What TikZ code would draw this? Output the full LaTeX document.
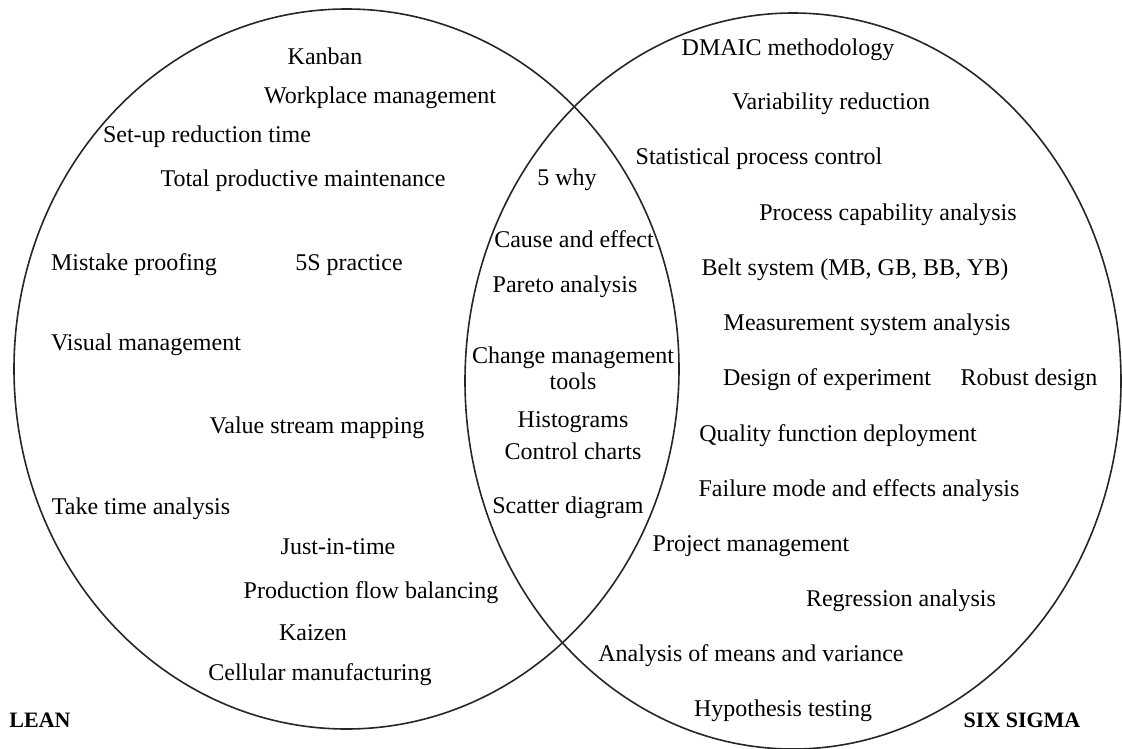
\documentclass[tikz,border=0pt]{standalone}
\usepackage{fontspec}
\setmainfont{Liberation Serif}
\begin{document}
\begin{tikzpicture}[x=1pt,y=-1pt,
  lbl/.style={inner sep=0pt,anchor=base,font=\fontsize{24}{26}\selectfont},
  mlbl/.style={inner sep=0pt,anchor=center,align=center,font=\fontsize{24}{26}\selectfont},
  title/.style={inner sep=0pt,anchor=base,font=\fontsize{22}{24}\selectfont\bfseries},
  setline/.style={line width=1.6pt,draw=black!85}]
\useasboundingbox (0,0) rectangle (1122,748);
\draw[setline] (346.5,369) ellipse [x radius=332.5pt, y radius=360pt];
\draw[setline] (793,381) ellipse [x radius=328pt, y radius=368pt];
% LEAN
\node[lbl] (kanban) at (325,64) {Kanban};
\node[lbl] (workplace) at (380,103) {Workplace management};
\node[lbl] (setup) at (207,142) {Set-up reduction time};
\node[lbl] (tpm) at (303,186) {Total productive maintenance};
\node[lbl] (mistake) at (134,270) {Mistake proofing};
\node[lbl] (fives) at (349,270) {5S practice};
\node[lbl] (visual) at (146,350) {Visual management};
\node[lbl] (vsm) at (317,433) {Value stream mapping};
\node[lbl] (take) at (141,514) {Take time analysis};
\node[lbl] (jit) at (338,554) {Just-in-time};
\node[lbl] (pfb) at (371,598) {Production flow balancing};
\node[lbl] (kaizen) at (313,640) {Kaizen};
\node[lbl] (cell) at (320,680) {Cellular manufacturing};
\node[title] (lean) at (40,727) {LEAN};
% Common
\node[lbl] (why) at (567,185) {5 why};
\node[lbl] (cause) at (574,247) {Cause and effect};
\node[lbl] (pareto) at (565,292) {Pareto analysis};
\node[mlbl] (change) at (573,368) {Change management\\tools};
\node[mlbl] (hist) at (573,436) {Histograms\\[6pt]Control charts};
\node[lbl] (scatter) at (568,513) {Scatter diagram};
% SIX SIGMA
\node[lbl] (dmaic) at (788,55) {DMAIC methodology};
\node[lbl] (var) at (831,109) {Variability reduction};
\node[lbl] (spc) at (759,164) {Statistical process control};
\node[lbl] (pca) at (888,220) {Process capability analysis};
\node[lbl] (belt) at (855,275) {Belt system (MB, GB, BB, YB)};
\node[lbl] (msa) at (867,330) {Measurement system analysis};
\node[lbl] (doe) at (827,385) {Design of experiment};
\node[lbl] (robust) at (1029,385) {Robust design};
\node[lbl] (qfd) at (838,441) {Quality function deployment};
\node[lbl] (fmea) at (859,496) {Failure mode and effects analysis};
\node[lbl] (pm) at (751,551) {Project management};
\node[lbl] (reg) at (901,606) {Regression analysis};
\node[lbl] (anova) at (751,661) {Analysis of means and variance};
\node[lbl] (hyp) at (783,716) {Hypothesis testing};
\node[title] (six) at (1022,727) {SIX SIGMA};
\end{tikzpicture}
\end{document}
